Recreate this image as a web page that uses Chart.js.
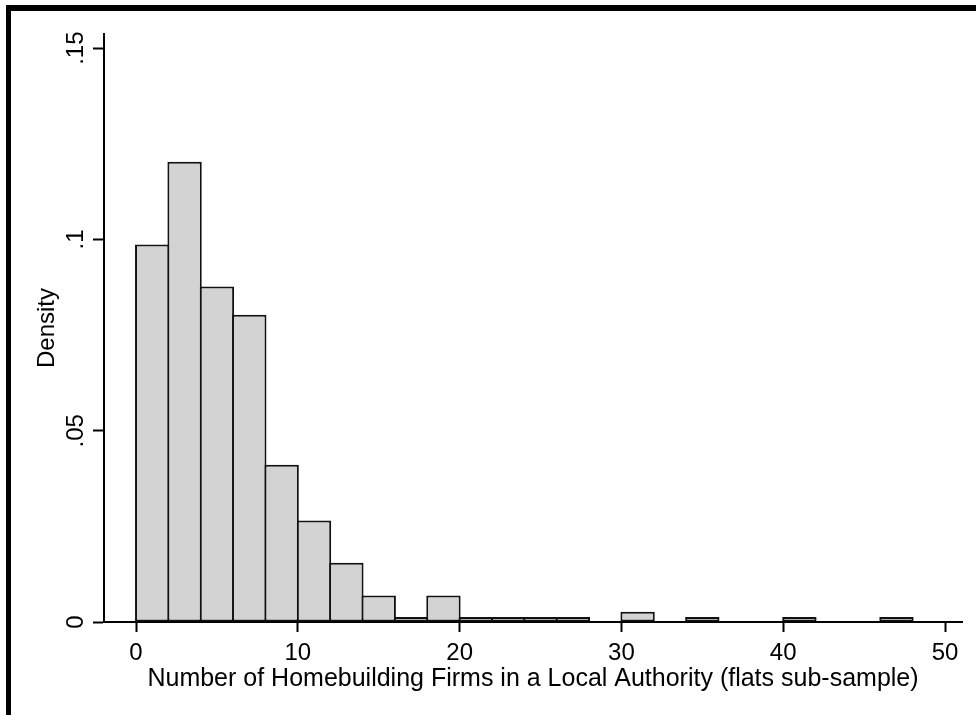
<!DOCTYPE html>
<html lang="en">
<head>
  <meta charset="UTF-8">
  <title>Homebuilding firms histogram</title>
  <script src="https://cdn.jsdelivr.net/npm/chart.js"></script>
  <style>
    html, body {
      margin: 0;
      padding: 0;
      background: #ffffff;
      overflow: hidden;
    }
    #wrap {
      position: relative;
      width: 976px;
      height: 715px;
    }
  </style>
</head>
<body>
  <div id="wrap">
    <canvas id="chart" width="976" height="715"></canvas>
  </div>

  <script>
    // histogram bins (lower edge, width 2) and density per bin
    const binLower = [0, 2, 4, 6, 8, 10, 12, 14, 16, 18, 20, 22, 24, 26, 28, 30, 32, 34, 36, 38, 40, 42, 44, 46];
    const density = [0.0987, 0.1203, 0.0877, 0.0803, 0.0411, 0.0265, 0.0155, 0.0069, 0.0013, 0.0069,
                     0.0013, 0.0013, 0.0013, 0.0013, 0, 0.0027, 0, 0.0013, 0, 0, 0.0013, 0, 0, 0.0013];
    const binWidth = 2;

    const xTicks = [0, 10, 20, 30, 40, 50];
    const yTicks = [0, 0.05, 0.1, 0.15];
    const yTickLabels = ['0', '.05', '.1', '.15'];

    const FONT = "'Liberation Sans', Arial, sans-serif";

    // thick frame on the top and left edge
    const framePlugin = {
      id: 'frame',
      beforeDraw(chart) {
        const ctx = chart.ctx;
        ctx.save();
        ctx.fillStyle = '#ffffff';
        ctx.fillRect(0, 0, chart.width, chart.height);
        ctx.fillStyle = '#000000';
        ctx.fillRect(6, 5, chart.width - 6, 6);
        ctx.fillRect(6, 5, 5, chart.height - 5);
        ctx.restore();
      }
    };

    // y tick labels drawn sideways, reading upwards
    const yLabelPlugin = {
      id: 'yLabels',
      afterDraw(chart) {
        const ctx = chart.ctx;
        const y = chart.scales.y;
        ctx.save();
        ctx.fillStyle = '#000000';
        ctx.font = '24px ' + FONT;
        ctx.textAlign = 'center';
        ctx.textBaseline = 'middle';
        yTicks.forEach((v, i) => {
          ctx.save();
          ctx.translate(76, y.getPixelForValue(v));
          ctx.rotate(-Math.PI / 2);
          ctx.fillText(yTickLabels[i], 0, 0);
          ctx.restore();
        });
        ctx.restore();
      }
    };

    const ctx = document.getElementById('chart').getContext('2d');
    new Chart(ctx, {
      type: 'bar',
      data: {
        datasets: [{
          label: 'Density',
          data: binLower.map((lo, i) => ({ x: lo + binWidth / 2, y: density[i] > 0 ? density[i] : null })),
          backgroundColor: '#d3d3d3',
          borderColor: '#111111',
          borderWidth: 2,
          borderSkipped: false,
          barPercentage: 1.062,
          categoryPercentage: 1
        }]
      },
      options: {
        responsive: false,
        animation: false,
        devicePixelRatio: 1,
        layout: {
          autoPadding: false,
          padding: { left: 0, right: 14, top: 34, bottom: 0 }
        },
        plugins: {
          legend: { display: false },
          tooltip: { enabled: false }
        },
        scales: {
          x: {
            type: 'linear',
            min: -1.98,
            max: 51.05,
            offset: false,
            afterFit(s) { s.height = 93; },
            afterBuildTicks(s) { s.ticks = xTicks.map(v => ({ value: v })); },
            border: { display: true, color: '#000000', width: 2 },
            grid: { display: true, drawOnChartArea: false, drawTicks: true, tickLength: 10, tickWidth: 2, tickColor: '#000000', offset: false },
            ticks: {
              color: '#000000',
              padding: 7,
              maxRotation: 0,
              font: { family: FONT, size: 24 },
              callback: v => String(v)
            },
            title: {
              display: true,
              text: 'Number of Homebuilding Firms in a Local Authority (flats sub-sample)',
              color: '#000000',
              font: { family: FONT, size: 25 },
              padding: { top: 0, bottom: 21 }
            }
          },
          y: {
            min: 0,
            max: 0.1537,
            afterFit(s) { s.width = 104; },
            afterBuildTicks(s) { s.ticks = yTicks.map(v => ({ value: v })); },
            border: { display: true, color: '#000000', width: 2 },
            grid: { display: true, drawOnChartArea: false, drawTicks: true, tickLength: 11, tickWidth: 2, tickColor: '#000000' },
            ticks: { display: false },
            title: {
              display: true,
              text: 'Density',
              color: '#000000',
              font: { family: FONT, size: 24 },
              padding: { top: 33, bottom: 0 }
            }
          }
        }
      },
      plugins: [framePlugin, yLabelPlugin]
    });
  </script>
</body>
</html>
